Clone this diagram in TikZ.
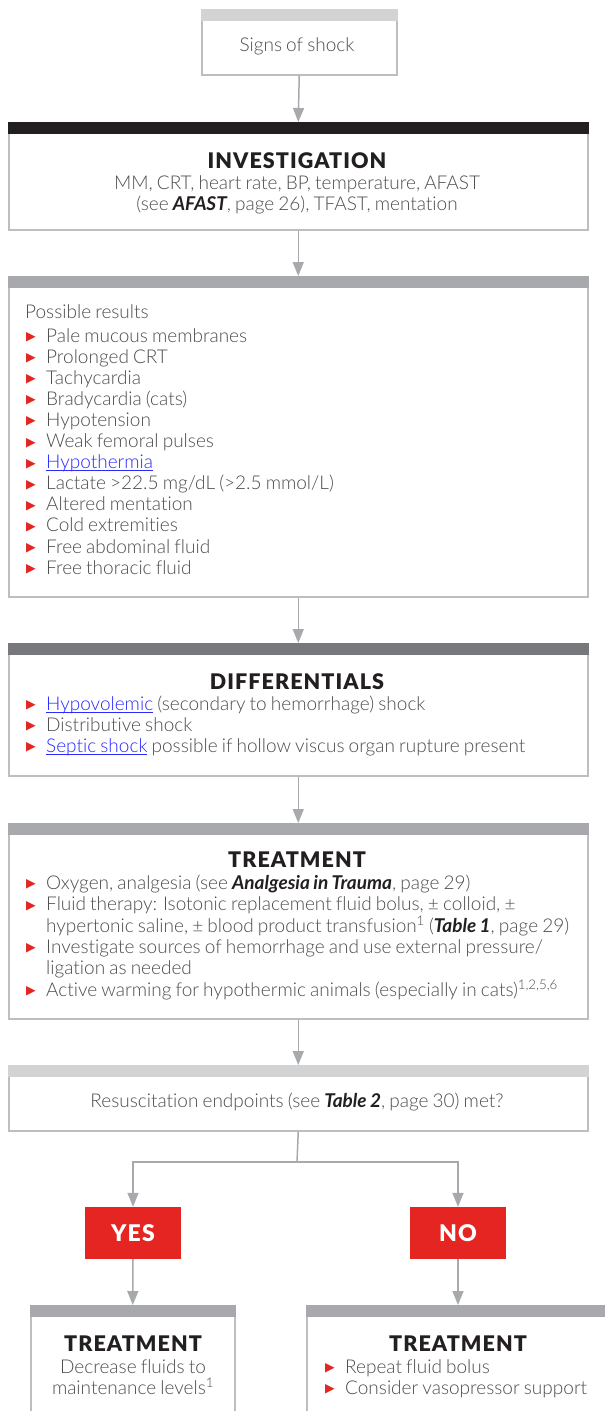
\documentclass[tikz,border=0pt]{standalone}
\usepackage{fontspec}
\setmainfont{Lato Light}[WordSpace=0.8,Ligatures=NoCommon,BoldFont={Lato Bold},ItalicFont={Lato Light Italic},BoldItalicFont={Lato Bold Italic}]
\newfontfamily\Head{Lato Black}[LetterSpace=5]
\newfontfamily\Sym{DejaVu Sans}
\usepackage{xcolor}
\definecolor{Col1}{RGB}{35,31,32}
\definecolor{Col2}{RGB}{229,37,33}
\definecolor{Col3}{RGB}{167,169,172}
\definecolor{Col4}{RGB}{77,77,79}
\definecolor{Col5}{RGB}{209,211,212}
\definecolor{Col6}{RGB}{119,120,123}
\definecolor{Col7}{RGB}{188,190,192}
\definecolor{ColLink}{RGB}{43,43,255}
\usetikzlibrary{arrows.meta}
\newcommand\BodySize{\fontsize{19}{21}\selectfont}
\newcommand\Bu{\makebox[20pt][l]{\textcolor{Col2}{\Sym\fontsize{12.5}{12.5}\selectfont\raisebox{1.5pt}{▶}}}}
\newcommand\Link[1]{\textcolor{ColLink}{\setbox0\hbox{#1}\rlap{\rule[-2.5pt]{\wd0}{0.8pt}}\box0}}
\newcommand\SeeRef[1]{\textcolor{Col1}{\bfseries\itshape #1}}
\tikzstyle{Box}=[draw=Col7,line width=1.5pt,inner sep=0pt,anchor=north west]
\tikzstyle{Edge}=[draw=Col3,line width=1.5pt]
\tikzstyle{EdgeTip}=[Edge,-{Triangle[length=14pt,width=11pt]}]
\tikzstyle{Title}=[anchor=base,inner sep=0pt,text=Col1,font=\Head\fontsize{21.5}{21.5}\selectfont]
\tikzstyle{Txt}=[anchor=base west,inner sep=0pt,text=Col4,font=\BodySize]
\tikzstyle{TxtC}=[Txt,anchor=base]
\tikzstyle{Answer}=[fill=Col2,text=white,inner sep=0pt,minimum width=96,minimum height=52,
font=\Head\fontsize{23}{23}\selectfont]

\begin{document}
\begin{tikzpicture}[x=1pt,y=-1pt]
        \clip(0,0)rectangle(605,1411);
        \fill[white](0,0)rectangle(605,1411);
        % boxes
        \node[Box,minimum width=195,minimum height=65](signs)at(201,9){};
        \node[Box,minimum width=579,minimum height=107](inv)at(8,122){};
        \node[Box,minimum width=579,minimum height=320](res)at(8,276){};
        \node[Box,minimum width=579,minimum height=132](diff)at(8,643){};
        \node[Box,minimum width=579,minimum height=195](treat)at(8,823){};
        \node[Box,minimum width=579,minimum height=65](resus)at(8,1065){};
        \node[Box,minimum width=204,minimum height=160](treatY)at(30,1305){};
        \node[Box,minimum width=320,minimum height=160](treatN)at(306,1305){};
        % top bars
        \fill[Col5](signs.north west)rectangle([yshift=-12pt]signs.north east);
        \fill[Col1](inv.north west)rectangle([yshift=-12pt]inv.north east);
        \fill[Col3](res.north west)rectangle([yshift=-12pt]res.north east);
        \fill[Col6](diff.north west)rectangle([yshift=-12pt]diff.north east);
        \fill[Col3](treat.north west)rectangle([yshift=-12pt]treat.north east);
        \fill[Col5](resus.north west)rectangle([yshift=-12pt]resus.north east);
        \fill[Col3](treatY.north west)rectangle([yshift=-12pt]treatY.north east);
        \fill[Col3](treatN.north west)rectangle([yshift=-12pt]treatN.north east);
        % answers
        \node[Answer](yes)at(133,1233){YES};
        \node[Answer](no)at(458,1233){NO};
        % texts
        \node[TxtC](signsT)at(297,51){Signs of shock};
        \node[Title](invT)at(297,168){INVESTIGATION};
        \node[TxtC](inv1)at(297,189){MM, CRT, heart rate, BP, temperature, AFAST};
        \node[TxtC](inv2)at(297,210){(see \SeeRef{AFAST}, page 26), TFAST, mentation};
        \node[Txt](resT)at(25,318){Possible results};
        \foreach \t [count=\i from 0] in {Pale mucous membranes,Prolonged CRT,Tachycardia,
            Bradycardia (cats),Hypotension,Weak femoral pulses,\Link{Hypothermia},
            Lactate >22.5 mg/dL (>2.5 mmol/L),Altered mentation,Cold extremities,
            Free abdominal fluid,Free thoracic fluid}
            \node[Txt](r\i)at(26,{342+21.1*\i}){\Bu\t};
        \node[Title](diffT)at(297,689){DIFFERENTIALS};
        \node[Txt](d1)at(26,710){\Bu\Link{Hypovolemic} (secondary to hemorrhage) shock};
        \node[Txt](d2)at(26,731){\Bu Distributive shock};
        \node[Txt](d3)at(26,752){\Bu\Link{Septic shock} possible if hollow viscus organ rupture present};
        \node[Title](treatT)at(297,867){TREATMENT};
        \node[Txt](t1)at(26,889){\Bu Oxygen, analgesia (see \SeeRef{Analgesia in Trauma}, page 29)};
        \node[Txt](t2)at(26,910.5){\Bu Fluid therapy: Isotonic replacement fluid bolus, ± colloid, ±};
        \node[Txt](t3)at(46,932){hypertonic saline, ± blood product transfusion\textsuperscript{1} (\SeeRef{Table 1}, page 29)};
        \node[Txt](t4)at(26,953){\Bu Investigate sources of hemorrhage and use external pressure/};
        \node[Txt](t5)at(46,974.5){ligation as needed};
        \node[Txt](t6)at(26,996){\Bu Active warming for hypothermic animals (especially in cats)\textsuperscript{1,2,5,6}};
        \node[TxtC](resusT)at(297,1107){Resuscitation endpoints (see \SeeRef{Table 2}, page 30) met?};
        \node[Title](treatYT)at(133,1351){TREATMENT};
        \node[TxtC](y1)at(133,1373){Decrease fluids to};
        \node[TxtC](y2)at(133,1394){maintenance levels\textsuperscript{1}};
        \node[Title](treatNT)at(458,1351){TREATMENT};
        \node[Txt](n1)at(325,1373){\Bu Repeat fluid bolus};
        \node[Txt](n2)at(325,1394){\Bu Consider vasopressor support};
        % connectors
        \draw[EdgeTip](signs.south)--(inv.north);
        \draw[EdgeTip](inv.south)--(res.north);
        \draw[EdgeTip](res.south)--(diff.north);
        \draw[EdgeTip](diff.south)--(treat.north);
        \draw[EdgeTip](treat.south)--(resus.north);
        \coordinate(split)at(297,1162);
        \draw[Edge](resus.south)--(split);
        \draw[EdgeTip](split)-|(yes.north);
        \draw[EdgeTip](split)-|(no.north);
        \draw[EdgeTip](yes.south)--(treatY.north);
        \draw[EdgeTip](no.south)--(treatN.north-|no.south);
    \end{tikzpicture}
\end{document}
